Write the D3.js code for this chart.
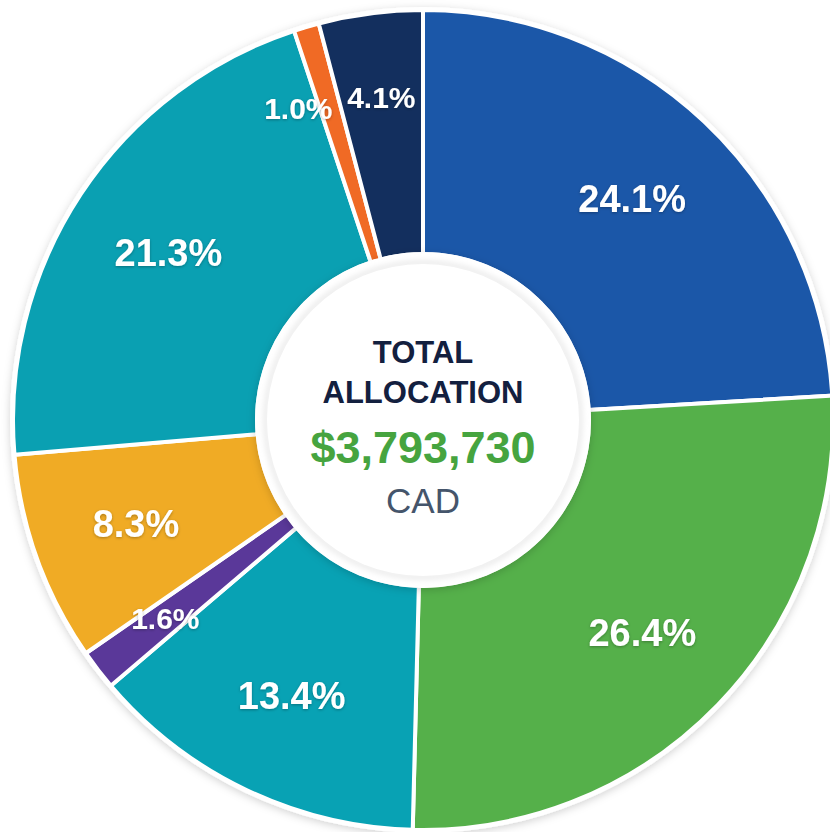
<!DOCTYPE html>
<html>
<head>
<meta charset="utf-8">
<script src="https://cdn.jsdelivr.net/npm/d3@7"></script>
<style>
  html, body { margin: 0; padding: 0; background: #ffffff; }
  svg { display: block; }
  .label { font-family: "Liberation Sans", Arial, sans-serif; font-weight: bold; fill: #ffffff; }
  .center { font-family: "Liberation Sans", Arial, sans-serif; text-anchor: middle; }
</style>
</head>
<body>
<svg id="chart"></svg>
<script>
var categories = ['Blue', 'Green', 'Teal', 'Purple', 'Yellow', 'Teal 2', 'Orange', 'Navy'];
var shares = [24.1, 26.4, 13.4, 1.6, 8.3, 21.3, 1.0, 4.1];
var sliceColors = ['#1b57a8', '#55b04a', '#08a2b4', '#5a3899', '#f0ab25', '#0aa0b2', '#f06a25', '#132f5e'];
var centerLines = ['TOTAL', 'ALLOCATION'];
var totalText = '$3,793,730';
var currencyText = 'CAD';

const WIDTH = 830;
const HEIGHT = 832;
const CX = 423;
const CY = 420;
const OUTER = 410;
const INNER = 166;

var svg = d3.select('#chart')
    .attr('width', WIDTH)
    .attr('height', HEIGHT);

var defs = svg.append('defs');
var shadow = defs.append('filter').attr('id', 'shadow')
    .attr('x', '-10%').attr('y', '-10%').attr('width', '120%').attr('height', '120%');
shadow.append('feDropShadow')
    .attr('dx', 0).attr('dy', 2).attr('stdDeviation', 4)
    .attr('flood-color', '#000').attr('flood-opacity', 0.18);

var textShadow = defs.append('filter').attr('id', 'textShadow')
    .attr('x', '-20%').attr('y', '-20%').attr('width', '140%').attr('height', '140%');
textShadow.append('feDropShadow')
    .attr('dx', 0).attr('dy', 1).attr('stdDeviation', 1.5)
    .attr('flood-color', '#000').attr('flood-opacity', 0.3);

var innerShadow = defs.append('filter').attr('id', 'innerShadow');
innerShadow.append('feGaussianBlur').attr('stdDeviation', 3);

var g = svg.append('g').attr('transform', 'translate(' + CX + ',' + CY + ')');

var pie = d3.pie().sort(null).value(function (d) { return d; });
var arcs = pie(shares);

var arc = d3.arc().innerRadius(INNER).outerRadius(OUTER);

// white rim behind the pie gives the soft outer edge
g.append('circle')
    .attr('r', OUTER + 3)
    .attr('fill', '#ffffff')
    .attr('filter', 'url(#shadow)');

g.selectAll('path.slice')
    .data(arcs)
    .enter()
    .append('path')
    .attr('class', 'slice')
    .attr('d', arc)
    .attr('fill', function (d, i) { return sliceColors[i]; })
    .attr('stroke', '#ffffff')
    .attr('stroke-width', 4)
    .attr('stroke-linejoin', 'round');

// center disc
g.append('circle')
    .attr('r', INNER + 2)
    .attr('fill', '#ffffff')
    .attr('filter', 'url(#shadow)');
g.append('circle')
    .attr('r', INNER - 9)
    .attr('fill', 'none')
    .attr('stroke', '#d9d9d9')
    .attr('stroke-width', 3)
    .attr('filter', 'url(#innerShadow)');
g.append('circle')
    .attr('r', INNER - 10)
    .attr('fill', '#ffffff');

// slice labels
var labelArc = d3.arc().innerRadius(305).outerRadius(305);
var smallArc = d3.arc().innerRadius(325).outerRadius(325);

g.selectAll('text.label')
    .data(arcs)
    .enter()
    .append('text')
    .attr('class', 'label')
    .attr('transform', function (d) {
        var c = d.value < 5 ? smallArc.centroid(d) : labelArc.centroid(d);
        // the tiniest slice pushes its label to the left of its neighbour
        if (d.value < 1.5) c[0] += 2;
        return 'translate(' + c[0] + ',' + c[1] + ')';
    })
    .attr('text-anchor', function (d) { return d.value < 1.5 ? 'end' : 'middle'; })
    .attr('dy', '0.36em')
    .attr('font-size', function (d) { return d.value < 5 ? 30 : 38; })
    .attr('filter', 'url(#textShadow)')
    .text(function (d) { return d.value.toFixed(1) + '%'; });

// center text
g.append('text').attr('class', 'center')
    .attr('y', -57)
    .attr('font-size', 31).attr('font-weight', 'bold')
    .attr('fill', '#13203f')
    .text(centerLines[0]);
g.append('text').attr('class', 'center')
    .attr('y', -17)
    .attr('font-size', 31).attr('font-weight', 'bold')
    .attr('fill', '#13203f')
    .text(centerLines[1]);
g.append('text').attr('class', 'center')
    .attr('y', 43)
    .attr('font-size', 45).attr('font-weight', 'bold')
    .attr('fill', '#46a43f')
    .text(totalText);
g.append('text').attr('class', 'center')
    .attr('y', 93)
    .attr('font-size', 35)
    .attr('fill', '#45556b')
    .text(currencyText);
</script>
</body>
</html>
